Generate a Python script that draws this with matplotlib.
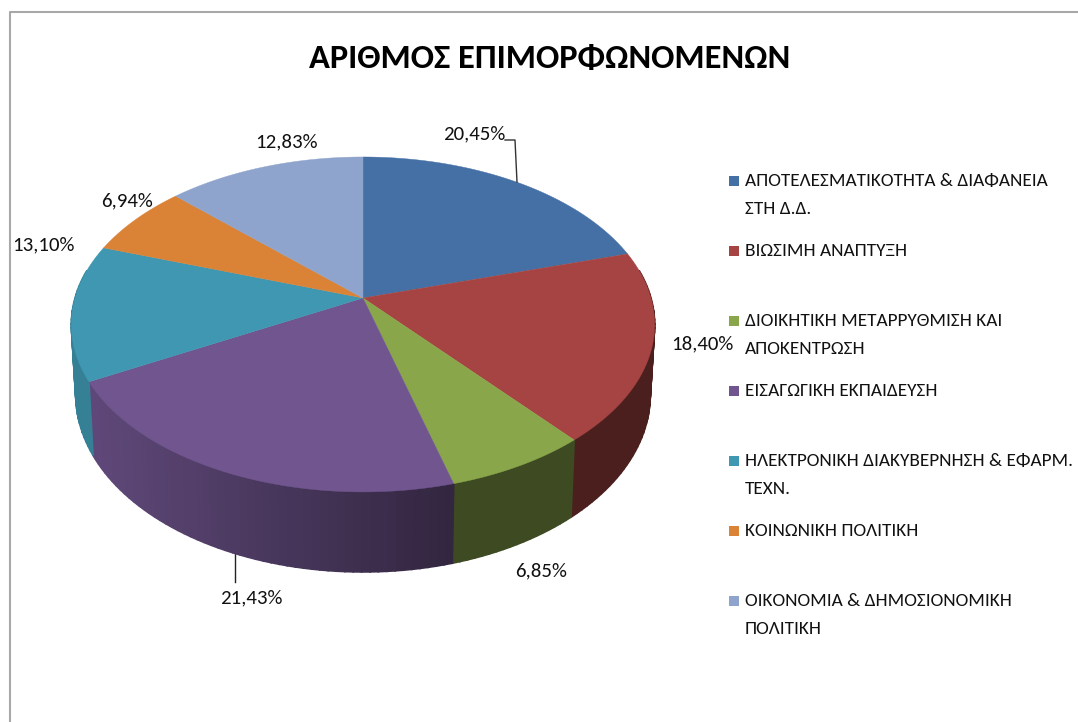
#!/usr/bin/env python
import numpy as np
import matplotlib
matplotlib.use('Agg')
import matplotlib.pyplot as plt

# chart data
title = 'ΑΡΙΘΜΟΣ ΕΠΙΜΟΡΦΩΝΟΜΕΝΩΝ'
categories = ['ΑΠΟΤΕΛΕΣΜΑΤΙΚΟΤΗΤΑ & ΔΙΑΦΑΝΕΙΑ\nΣΤΗ Δ.Δ.',
              'ΒΙΩΣΙΜΗ ΑΝΑΠΤΥΞΗ',
              'ΔΙΟΙΚΗΤΙΚΗ ΜΕΤΑΡΡΥΘΜΙΣΗ ΚΑΙ\nΑΠΟΚΕΝΤΡΩΣΗ',
              'ΕΙΣΑΓΩΓΙΚΗ ΕΚΠΑΙΔΕΥΣΗ',
              'ΗΛΕΚΤΡΟΝΙΚΗ ΔΙΑΚΥΒΕΡΝΗΣΗ & ΕΦΑΡΜ.\nΤΕΧΝ.',
              'ΚΟΙΝΩΝΙΚΗ ΠΟΛΙΤΙΚΗ',
              'ΟΙΚΟΝΟΜΙΑ & ΔΗΜΟΣΙΟΝΟΜΙΚΗ\nΠΟΛΙΤΙΚΗ']
values = [20.45, 18.40, 6.85, 21.43, 13.10, 6.94, 12.83]
colors = ['#4470a6', '#a54442', '#8aa64b', '#70558f', '#3f97b1', '#da8236', '#8fa4cc']

# label places, in pixels
label_xy = [(474, 134), (702, 344), (541, 571), (251, 598), (43, 245), (127, 201), (286, 142)]
legend_y = [181, 251, 321, 391, 461, 531, 601]

FONT = ['Carlito', 'Open Sans']

# pie geometry (perspective view of a disc)
CX, CY = 363, 298
RX, RY = 288, 163.3
PERSP = 0.158


def project(theta, bottom=False):
    w = 1 + PERSP * np.cos(theta)
    x = RX * np.sin(theta) / w
    y = -RY * np.cos(theta) / w
    if bottom:
        return CX + 0.985 * x, CY + y + 68 - 12 * np.cos(theta)
    return CX + x, CY + y


def wall_shade(x):
    f = 0.85 - 0.4 * (x - 90) / 360
    return np.clip(f, 0.45, 0.85)


fig = plt.figure(figsize=(10.78, 7.22), dpi=100)
ax = fig.add_axes([0, 0, 1, 1])
ax.set_xlim(0, 1078)
ax.set_ylim(722, 0)
ax.axis('off')

# chart border
ax.plot([1078, 10, 10], [12, 12, 722], color='#a8a8a8', lw=1.5)

edges = np.cumsum([0] + values) / 100.0 * 2 * np.pi

# side walls
for i, col in enumerate(colors):
    start = max(edges[i], np.radians(80))
    end = min(edges[i + 1], np.radians(280))
    if end <= start:
        continue
    steps = np.linspace(start, end, int((end - start) * 40) + 2)
    rgb = np.array(matplotlib.colors.to_rgb(col))
    for a, b in zip(steps[:-1], steps[1:]):
        xa, ya = project(a)
        xb, yb = project(b)
        xc, yc = project(b, True)
        xd, yd = project(a, True)
        c = rgb * wall_shade((xa + xb) / 2)
        ax.fill([xa, xb, xc, xd], [ya, yb, yc, yd], color=c, lw=1.2, zorder=2)

# top face
for i, col in enumerate(colors):
    th = np.linspace(edges[i], edges[i + 1], 80)
    xs, ys = project(th)
    ax.fill(np.r_[CX, xs], np.r_[CY, ys], color=col, lw=0.3, zorder=3)

# leader lines
ax.plot([505, 515, 517], [140, 140, 182], color='#333333', lw=1, zorder=4)
ax.plot([235, 235], [552, 582], color='#222222', lw=1, zorder=1)

# percent labels
for v, (x, y) in zip(values, label_xy):
    ax.text(x, y, ('%.2f%%' % v).replace('.', ','), ha='center', va='center',
            fontsize=15, family=FONT, color='#111111', zorder=5)

# legend
for name, col, y in zip(categories, colors, legend_y):
    ax.scatter([734], [y], marker='s', s=50, color=col, linewidths=0, zorder=5)
    for n, line in enumerate(name.split('\n')):
        ax.text(745, y + n * 28, line, ha='left', va='center', fontsize=13.9,
                family=FONT, color='#111111', zorder=5)

ax.text(550, 58, title, ha='center', va='center', fontsize=24.8, family=FONT,
        weight='bold', color='black', zorder=5)

fig.savefig('out.png', dpi=100)
